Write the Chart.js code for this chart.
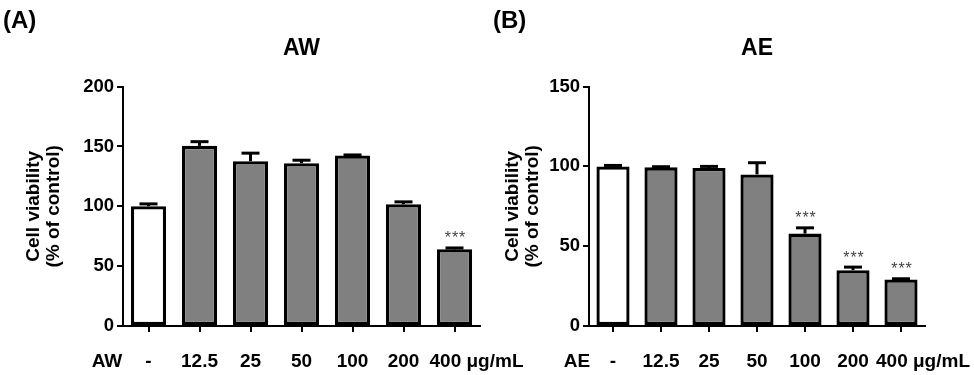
<!DOCTYPE html>
<html><head><meta charset="utf-8">
<script src="https://cdn.jsdelivr.net/npm/chart.js@4"></script>
<style>
body{margin:0;background:#fff;width:974px;height:375px;overflow:hidden;position:relative}
canvas{position:absolute;top:0}
</style></head><body>
<canvas id="cA" width="540" height="375" style="left:0;z-index:2"></canvas>
<canvas id="cB" width="487" height="375" style="left:487px;z-index:1"></canvas>
<script>
const categories = ['-', '12.5', '25', '50', '100', '200', '400'];
const unitLabel = 'μg/mL';
const awValues = [100, 150.5, 137.7, 136, 142.4, 101.7, 64.1];
const awErrors = [2, 3.5, 6.7, 2.5, 0.5, 2, 1.1];
const awSignif = ['', '', '', '', '', '', '***'];
const aeValues = [100, 99.4, 99, 95, 57.9, 35, 29.2];
const aeErrors = [0.6, 0.4, 1, 7.3, 3.6, 1.9, 0.4];
const aeSignif = ['', '', '', '', '***', '***', '***'];
const awTicks = [0, 50, 100, 150, 200];
const aeTicks = [0, 50, 100, 150];
const barColors = ['#ffffff', '#808080', '#808080', '#808080', '#808080', '#808080', '#808080'];

const FONT = '"Liberation Sans", Arial, sans-serif';

const extras = {
  id: 'extras',
  afterDatasetsDraw(chart, args, opts) {
    const ctx = chart.ctx, ys = chart.scales.y;
    const meta = chart.getDatasetMeta(0);
    const ds = chart.data.datasets[0];
    ctx.save();
    meta.data.forEach((bar, i) => {
      const v = ds.data[i], e = opts.errors[i];
      const x = bar.x;
      const yb = ys.getPixelForValue(v), yt = ys.getPixelForValue(v + e);
      ctx.strokeStyle = '#000';
      ctx.lineWidth = 3;
      ctx.beginPath(); ctx.moveTo(x, yb); ctx.lineTo(x, yt); ctx.stroke();
      ctx.beginPath(); ctx.moveTo(x - 9, yt); ctx.lineTo(x + 9, yt); ctx.stroke();
      if (opts.signif[i]) {
        ctx.fillStyle = '#444';
        ctx.font = '16px ' + FONT;
        ctx.letterSpacing = '1px';
        ctx.textAlign = 'center';
        ctx.textBaseline = 'middle';
        ctx.fillText(opts.signif[i], x + 1, yt - 9);
        ctx.letterSpacing = '0px';
      }
    });
    ctx.restore();
  },
  afterDraw(chart, args, opts) {
    const ctx = chart.ctx, xs = chart.scales.x;
    ctx.save();
    ctx.fillStyle = '#000';
    ctx.font = 'bold 24px ' + FONT;
    ctx.textAlign = 'left';
    ctx.textBaseline = 'middle';
    ctx.fillText(opts.panel, opts.panelX, 21);
    ctx.font = 'bold 19px ' + FONT;
    const ly = xs.top + 36;
    ctx.textAlign = 'center';
    ctx.fillText(opts.rowLabel, opts.rowX, ly);
    const last = categories.length - 1;
    ctx.textAlign = 'left';
    ctx.fillText(categories[last] + ' ' + unitLabel, xs.getPixelForValue(last) - 25, ly);
    ctx.restore();
  }
};

function makeChart(id, title, values, errors, signif, ticks, ymax, yWidth, padRight, titlePad, panel, panelX, rowX) {
  return new Chart(document.getElementById(id), {
    type: 'bar',
    data: {
      labels: categories,
      datasets: [{
        data: values,
        backgroundColor: barColors,
        borderColor: '#000',
        borderWidth: 3.3,
        borderSkipped: false,
        barPercentage: 0.69,
        categoryPercentage: 1
      }]
    },
    options: {
      responsive: false,
      animation: false,
      devicePixelRatio: 1,
      layout: { padding: { left: 0, right: padRight, top: 0, bottom: 0 } },
      plugins: {
        legend: { display: false },
        tooltip: { enabled: false },
        title: {
          display: true, text: title, color: '#000', fullSize: false,
          font: { family: FONT, size: 23, weight: 'bold', lineHeight: 1.2 },
          padding: { top: 35, bottom: 24 }
        },
        extras: { errors, signif, panel, panelX, rowLabel: title, rowX }
      },
      scales: {
        x: {
          offset: true,
          grid: { offset: false, drawOnChartArea: false, drawTicks: true, tickLength: 6, color: '#000', lineWidth: 2 },
          border: { display: true, color: '#000', width: 2 },
          ticks: {
            color: '#000', font: { family: FONT, size: 19, weight: 'bold' }, padding: 18,
            maxRotation: 0, autoSkip: false,
            callback: (v, i) => i === categories.length - 1 ? '' : categories[i]
          },
          afterFit: s => { s.height = 49; }
        },
        y: {
          min: 0, max: ymax,
          afterBuildTicks: s => { s.ticks = ticks.map(v => ({ value: v })); },
          afterFit: s => { s.width = yWidth; },
          border: { display: true, color: '#000', width: 2 },
          grid: { drawOnChartArea: false, drawTicks: true, tickLength: 6, color: '#000', lineWidth: 2 },
          ticks: { color: '#000', font: { family: FONT, size: 18.5, weight: 'bold' }, padding: 3 },
          title: {
            display: true, text: ['Cell viability', '(% of control)'], color: '#000',
            font: { family: FONT, size: 19, weight: 'bold', lineHeight: 1.05 },
            padding: { top: titlePad, bottom: 0 }
          }
        }
      }
    },
    plugins: [extras]
  });
}

makeChart('cA', 'AW', awValues, awErrors, awSignif, awTicks, 200, 123, 60, 24, '(A)', 3, 107);
makeChart('cB', 'AE', aeValues, aeErrors, aeSignif, aeTicks, 150, 102, 49, 16, '(B)', 6, 90);
</script>
</body></html>
